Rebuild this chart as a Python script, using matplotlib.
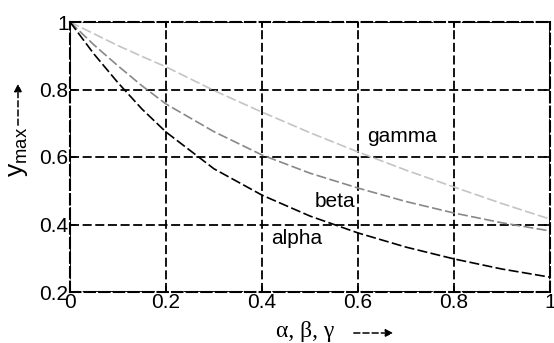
import numpy as np
import matplotlib
matplotlib.use("Agg")
import matplotlib.pyplot as plt

plt.rcParams["font.family"] = ["Liberation Sans", "DejaVu Sans"]

# values
x_vals = [0.0, 0.05, 0.1, 0.15, 0.2, 0.3, 0.4, 0.5, 0.6, 0.7, 0.8, 0.9, 1.0]
alpha_vals = [1.0, 0.905, 0.82, 0.742, 0.674, 0.565, 0.487, 0.425, 0.375, 0.333, 0.298, 0.268, 0.244]
beta_vals = [1.0, 0.932, 0.87, 0.811, 0.757, 0.675, 0.606, 0.552, 0.508, 0.468, 0.434, 0.405, 0.381]
gamma_vals = [1.0, 0.965, 0.93, 0.898, 0.867, 0.797, 0.733, 0.672, 0.615, 0.561, 0.511, 0.462, 0.416]

x_ticks = [0, 0.2, 0.4, 0.6, 0.8, 1]
x_ticklabels = ["0", "0.2", "0.4", "0.6", "0.8", "1"]
y_ticks = [0.2, 0.4, 0.6, 0.8, 1]
y_ticklabels = ["0.2", "0.4", "0.6", "0.8", "1"]

fig = plt.figure(figsize=(5.54, 3.43), dpi=100)
ax = fig.add_axes([70 / 554, 51 / 343, 480 / 554, 270 / 343])

dash = (0, (6, 2))
ax.plot(x_vals, gamma_vals, color="#c4c4c4", lw=1.2, linestyle=dash)
ax.plot(x_vals, beta_vals, color="#888888", lw=1.2, linestyle=dash)
ax.plot(x_vals, alpha_vals, color="#000000", lw=1.2, linestyle=dash)

ax.set_xlim(0, 1)
ax.set_ylim(0.2, 1)
ax.set_xticks(x_ticks)
ax.set_xticklabels(x_ticklabels)
ax.set_yticks(y_ticks)
ax.set_yticklabels(y_ticklabels)
ax.tick_params(direction="in", length=4, width=1.2, labelsize=15, pad=1,
               top=True, right=True)
ax.grid(True, color="k", linestyle=(0, (5, 2)), lw=1.3)
for sp in ax.spines.values():
    sp.set_linestyle((0, (5, 2)))
    sp.set_linewidth(1.5)

ax.text(0.62, 0.66, "gamma", fontsize=15, va="center", ha="left")
ax.text(0.51, 0.467, "beta", fontsize=15, va="center", ha="left")
ax.text(0.42, 0.36, "alpha", fontsize=15, va="center", ha="left")

# x label with dashed arrow
fig.text(276 / 554, 1 - 331 / 343, "α, β, γ", fontsize=17, va="center", ha="left",
         family=["Liberation Serif", "DejaVu Serif"])
fig.patches.append(matplotlib.patches.FancyArrowPatch(
    (351 / 554, 1 - 333 / 343), (396 / 554, 1 - 333 / 343), transform=fig.transFigure,
    arrowstyle="-|>", mutation_scale=11, lw=1.1, linestyle=(0, (4, 2)), color="k"))

# y label with dashed arrow
fig.text(18 / 554, 1 - 152 / 343, "$\\mathregular{y_{max}}$", fontsize=19, rotation=90,
         va="center", ha="center")
fig.patches.append(matplotlib.patches.FancyArrowPatch(
    (18 / 554, 1 - 128 / 343), (18 / 554, 1 - 81 / 343), transform=fig.transFigure,
    arrowstyle="-|>", mutation_scale=11, lw=1.1, linestyle=(0, (4, 2)), color="k"))

fig.savefig("out.png", dpi=100)
